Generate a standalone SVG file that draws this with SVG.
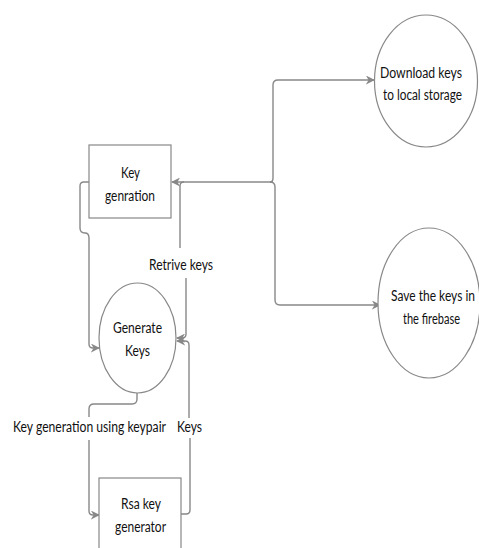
<svg xmlns="http://www.w3.org/2000/svg" width="479" height="548" viewBox="0 0 479 548">
<defs>
<marker id="arr" viewBox="0 0 10 10" refX="9" refY="5" markerWidth="9" markerHeight="9" markerUnits="userSpaceOnUse" orient="auto">
<path d="M0,0 L10,5 L0,10 L3,5 Z" fill="#888"/>
</marker>
</defs>
<style>
.node{fill:#fff;stroke:#888;stroke-width:1.2}
.c{fill:none;stroke:#888;stroke-width:1.4}
text{font-family:Lato,"Open Sans","Liberation Sans",sans-serif;font-size:14.5px;fill:#111;text-anchor:middle}
</style>
<rect width="479" height="548" fill="#fff"/>
<g id="connectors">
<path class="c" d="M89,182 H84 Q80,182 80,186 V228 Q80,233 85,233 Q89,233 89,238 V344 Q89,348 93,348 H99" marker-end="url(#arr)"/>
<path class="c" d="M273,182 H172" marker-end="url(#arr)"/>
<path class="c" d="M270,182 Q273,182 273,178 V85 Q273,80 278,80 H374" marker-end="url(#arr)"/>
<path class="c" d="M270,182 Q275,182 275,187 V300 Q275,305 280,305 H380" marker-end="url(#arr)"/>
<path class="c" d="M184,182 Q180,182 180,186 V248"/>
<path class="c" d="M186,278 V334 Q186,338 182,338 H177" marker-end="url(#arr)"/>
<path class="c" d="M181,514 H186 Q190,514 190,510 V438"/>
<path class="c" d="M189,418 V345 Q189,341 185,341 H177" marker-end="url(#arr)"/>
<path class="c" d="M137,393 V399 Q137,404 132,404 H94 Q89,404 89,409 V417"/>
<path class="c" d="M89,440 V511 Q89,515 93,515 H99" marker-end="url(#arr)"/>
<text x="181" y="270" textLength="64" lengthAdjust="spacingAndGlyphs">Retrive keys</text>
<text x="89.5" y="432" textLength="153" lengthAdjust="spacingAndGlyphs">Key generation using keypair</text>
<text x="189.5" y="432" textLength="25" lengthAdjust="spacingAndGlyphs">Keys</text>
</g>
<g id="key-genration">
<rect class="node" x="89" y="145" width="82" height="73"/>
<text x="130.5" y="178" textLength="19" lengthAdjust="spacingAndGlyphs">Key</text>
<text x="130" y="201" textLength="50" lengthAdjust="spacingAndGlyphs">genration</text>
</g>
<g id="generate-keys">
<ellipse class="node" cx="137.5" cy="338" rx="38.5" ry="55"/>
<text x="137.5" y="333" textLength="49" lengthAdjust="spacingAndGlyphs">Generate</text>
<text x="137.5" y="356" textLength="25" lengthAdjust="spacingAndGlyphs">Keys</text>
</g>
<g id="rsa-key-generator">
<rect class="node" x="99" y="478" width="82" height="80"/>
<text x="141" y="509" textLength="40" lengthAdjust="spacingAndGlyphs">Rsa key</text>
<text x="140.5" y="532" textLength="51" lengthAdjust="spacingAndGlyphs">generator</text>
</g>
<g id="download-keys">
<ellipse class="node" cx="426" cy="81" rx="51.5" ry="66"/>
<text x="421" y="78" textLength="82" lengthAdjust="spacingAndGlyphs">Download keys</text>
<text x="422.5" y="100" textLength="79" lengthAdjust="spacingAndGlyphs">to local storage</text>
</g>
<g id="save-keys">
<ellipse class="node" cx="429" cy="303" rx="51" ry="75"/>
<text x="433" y="301" textLength="84" lengthAdjust="spacingAndGlyphs">Save the keys in</text>
<text x="431.5" y="324" textLength="57" lengthAdjust="spacingAndGlyphs">the firebase</text>
</g>
</svg>
